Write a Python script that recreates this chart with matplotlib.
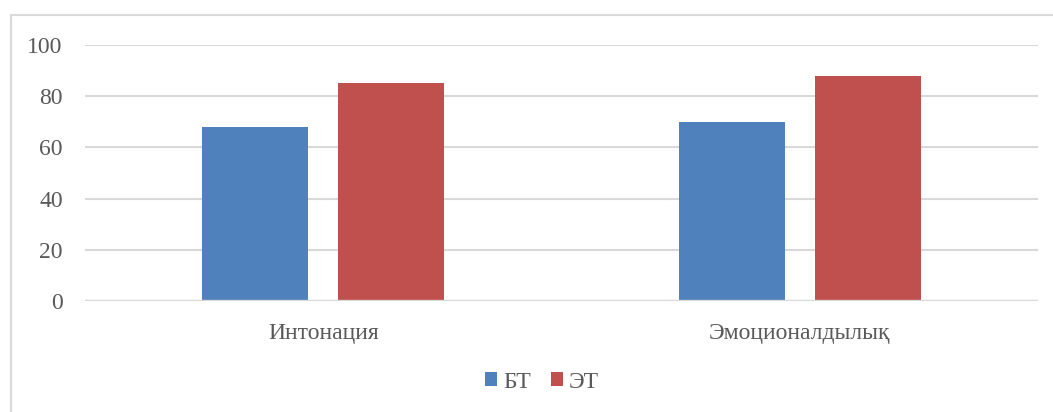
import numpy as np
import matplotlib.pyplot as plt
from matplotlib.patches import Rectangle

categories = ["Интонация", "Эмоционалдылық"]
bt_values = [68, 70]
et_values = [85, 88]
series_names = ["БТ", "ЭТ"]

plt.rcParams['font.family'] = ['Liberation Serif', 'DejaVu Serif']

W, H = 1053, 412
fig = plt.figure(figsize=(W / 100, H / 100), dpi=100)

# chart border (right/bottom edges run past the picture)
fig.patches.append(Rectangle((11 / W, -0.1), 1.2, 1 - 15 / H + 0.1, transform=fig.transFigure,
                             fill=False, edgecolor="#d9d9d9", linewidth=1.5))

ax = fig.add_axes([85 / W, 1 - 301 / H, (1038 - 85) / W, (301 - 45) / H])

x = np.arange(len(categories))
w = 0.2225
off = w / 2 + 0.0315
ax.bar(x - off, bt_values, w, color="#4f81bd", label=series_names[0], zorder=3)
ax.bar(x + off, et_values, w, color="#c0504d", label=series_names[1], zorder=3)

ax.set_xlim(-0.5, 1.5)
ax.set_ylim(0, 100)
ax.set_yticks(range(0, 101, 20))
ax.yaxis.grid(True, color="#d9d9d9", linewidth=1.5, zorder=0)
for s in ax.spines.values():
    s.set_visible(False)
ax.axhline(0, color="#d9d9d9", linewidth=1.7, zorder=4)
ax.tick_params(length=0, labelsize=17, colors="#595959")
ax.tick_params(axis="y", pad=16)
ax.tick_params(axis="x", pad=16)
ax.set_xticks(x)
ax.set_xticklabels(categories)

fig.legend(loc="center", bbox_to_anchor=(542 / W, 1 - 382 / H), ncol=2, frameon=False,
           fontsize=17, handlelength=0.5, handleheight=0.5, handletextpad=0.25,
           columnspacing=0.85, labelcolor="#595959")

fig.savefig("out.png", dpi=100)
